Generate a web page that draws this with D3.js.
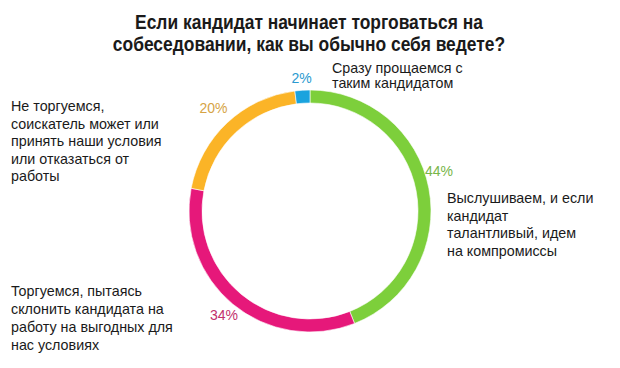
<!DOCTYPE html>
<html>
<head>
<meta charset="utf-8">
<script src="https://cdn.jsdelivr.net/npm/d3@7"></script>
<style>
  body { margin: 0; background: #fff; }
  text { font-family: "Liberation Sans", Arial, sans-serif; }
</style>
</head>
<body>
<svg id="chart" width="620" height="368"></svg>
<script>
// data
const titleLines = ['Если кандидат начинает торговаться на', 'собеседовании, как вы обычно себя ведете?'];
const answers = [
    'Выслушиваем, и если кандидат талантливый, идем на компромиссы',
    'Торгуемся, пытаясь склонить кандидата на работу на выгодных для нас условиях',
    'Не торгуемся, соискатель может или принять наши условия или отказаться от работы',
    'Сразу прощаемся с таким кандидатом'
];
const shares = [44, 34, 20, 2];
const colors = ['#7dcf3b', '#e6187a', '#fbb427', '#1aa3de'];
const pctColors = ['#78b548', '#c2306c', '#d6a445', '#2a9ad0'];
// wrapped lines of the answer texts as in the picture
const answerLines = [
    ['Выслушиваем, и если', 'кандидат', 'талантливый, идем', 'на компромиссы'],
    ['Торгуемся, пытаясь', 'склонить кандидата на', 'работу на выгодных для', 'нас условиях'],
    ['Не торгуемся,', 'соискатель может или', 'принять наши условия', 'или отказаться от', 'работы'],
    ['Сразу прощаемся с', 'таким кандидатом']
];

const svg = d3.select('#chart');
const cx = 310, cy = 211, R = 121, r = 108;

// title, narrow bold (Arial Narrow look by squeezing Liberation Sans)
const titleX = 309;
svg.append('g')
    .attr('transform', `translate(${titleX},0) scale(0.85,1)`)
    .selectAll('text')
    .data(titleLines)
    .join('text')
    .attr('x', 0)
    .attr('y', (d, i) => 29 + i * 22)
    .attr('text-anchor', 'middle')
    .style('font-weight', 'bold')
    .style('font-size', '20.5px')
    .style('fill', '#1a1a1a')
    .text(d => d);

const pie = d3.pie().sort(null).value(d => d);
const arcs = pie(shares);
const arc = d3.arc().innerRadius(r).outerRadius(R);

const g = svg.append('g').attr('transform', `translate(${cx},${cy})`);
g.selectAll('path')
    .data(arcs)
    .join('path')
    .attr('d', arc)
    .style('fill', (d, i) => colors[i])
    .style('stroke', '#fff')
    .style('stroke-width', 0.6);

// percent labels outside the ring
const pctRadius = [135, 135, 141, 133];
function pctAngle(d, i) {
    // the 44% label sits a bit above the middle of its arc
    return i === 0 ? 1.27 : (d.startAngle + d.endAngle) / 2;
}
g.selectAll('text.pct')
    .data(arcs)
    .join('text')
    .attr('class', 'pct')
    .attr('x', (d, i) => Math.sin(pctAngle(d, i)) * pctRadius[i])
    .attr('y', (d, i) => -Math.cos(pctAngle(d, i)) * pctRadius[i])
    .attr('text-anchor', 'middle')
    .attr('dominant-baseline', 'central')
    .style('font-size', '14px')
    .style('fill', (d, i) => pctColors[i])
    .text(d => d.data + '%');

// answer texts
const labelPos = [[447, 203], [11, 296], [11, 111], [332, 73]];
const lineH = [17.5, 18, 17.5, 14.5];
answerLines.forEach((lines, i) => {
    svg.append('text')
        .attr('x', labelPos[i][0])
        .attr('y', labelPos[i][1])
        .style('font-size', '14.3px')
        .style('fill', '#1a1a1a')
        .selectAll('tspan')
        .data(lines)
        .join('tspan')
        .attr('x', labelPos[i][0])
        .attr('dy', (d, j) => j === 0 ? 0 : lineH[i])
        .text(d => d);
});
</script>
</body>
</html>
